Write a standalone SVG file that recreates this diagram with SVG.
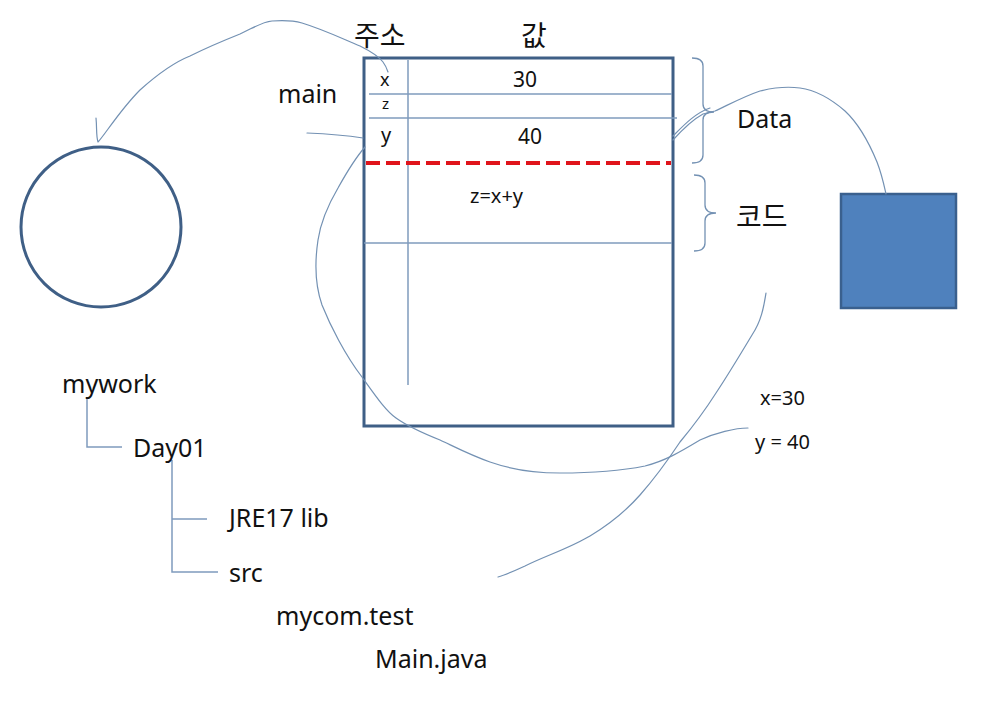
<svg xmlns="http://www.w3.org/2000/svg" width="985" height="705" viewBox="0 0 985 705">
<style>
text{font-family:"Noto Sans","Noto Sans CJK KR",sans-serif;fill:#111;}
.big{font-size:25px;}
.mid{font-size:20px;}
.kr{font-family:"Noto Sans CJK KR","Noto Sans",sans-serif;font-size:28px;}
.grid{stroke:#7f9bbd;stroke-width:1.5;fill:none;}
.curve{stroke:#7391b3;stroke-width:1.2;fill:none;stroke-linecap:round;stroke-linejoin:round;}
.brace{stroke:#7391b3;stroke-width:1.3;fill:none;}
.tree{stroke:#7f9bbd;stroke-width:1.5;fill:none;}
</style>
<rect width="985" height="705" fill="#fff"/>

<g id="circle">
<circle cx="101" cy="227" r="80" fill="none" stroke="#3f5f86" stroke-width="3"/>
</g>

<g id="square">
<rect x="841" y="194" width="115" height="114" fill="#4f81bd" stroke="#3a608e" stroke-width="2.5"/>
</g>

<g id="memory">
<rect x="364" y="58" width="309" height="368" fill="none" stroke="#3f5f86" stroke-width="3"/>
<line class="grid" x1="408" y1="60" x2="408" y2="385"/>
<line class="grid" x1="369" y1="94" x2="672" y2="94"/>
<line class="grid" x1="369" y1="118" x2="677" y2="118"/>
<line class="grid" x1="364" y1="243" x2="672" y2="243"/>
<line x1="366" y1="163" x2="671" y2="163" stroke="#e0141b" stroke-width="4" stroke-dasharray="14,6"/>
<text class="kr" x="354" y="46">주소</text>
<text class="kr" x="521" y="46">값</text>
<text x="380" y="86" style="font-size:18px">x</text>
<text x="382" y="109" style="font-size:15px">z</text>
<text class="mid" x="381" y="142">y</text>
<text x="513" y="87" style="font-size:21px">30</text>
<text x="518" y="144" style="font-size:21px">40</text>
<text class="mid" x="470" y="203">z=x+y</text>
</g>

<g id="labels">
<text class="big" x="278" y="103">main</text>
<text class="big" x="737" y="128">Data</text>
<text class="kr" x="736" y="227">코드</text>
<text class="mid" x="760" y="405">x=30</text>
<text class="mid" x="755" y="449">y = 40</text>
</g>

<g id="braces">
<path class="brace" d="M692 58 Q703 58 703 66 L703 104 Q703 112 714 112 Q703 112 703 120 L703 155 Q703 163 692 163"/>
<path class="brace" d="M694 175 Q705 175 705 183 L705 205 Q705 213 716 213 Q705 213 705 221 L705 243 Q705 251 694 251"/>
</g>

<g id="tree">
<path class="tree" d="M87 397 L87 447 L122 447"/>
<path class="tree" d="M172 460 L172 572 L218 572 M172 519 L207 519"/>
<text class="big" x="62" y="393">mywork</text>
<text class="big" x="133" y="457">Day01</text>
<text class="big" x="229" y="527">JRE17 lib</text>
<text class="big" x="229" y="582">src</text>
<text class="big" x="276" y="625">mycom.test</text>
<text class="big" x="375" y="668">Main.java</text>
</g>

<g id="connectors">
<path class="curve" d="M96 118 C97 128 96 136 98 142 C104 136 120 110 140 90 C160 72 175 62 190 56 C210 46 225 40 240 34 C255 27 262 22 272 21 C285 20 295 21 302 23 C325 30 345 40 360 46 C372 52 380 58 383 62 C386 66 387 69 388 72"/>
<path class="curve" d="M307 133 C330 134 350 136 363 138"/>
<path class="curve" d="M365 147 C358 155 348 170 338 188 C328 205 321 220 318 240 C315 260 315 285 322 305 C330 325 345 355 362 377 C375 395 385 410 396 418 C410 428 425 434 440 440 C455 447 470 455 490 462 C510 469 530 473 560 473 C590 473 620 471 645 466 C665 461 680 452 700 440 C715 433 735 428 748 428"/>
<path class="curve" d="M766 293 C764 305 762 320 752 335 C740 355 728 375 716 393 C702 415 690 430 680 442 C668 460 655 478 640 495 C625 512 610 524 590 536 C570 548 545 556 525 566 C512 572 505 575 498 577"/>
<path class="curve" d="M673 140 C682 130 692 120 703 114 L715 111 C730 104 745 96 760 91 C772 88 785 86 800 88 C815 90 830 98 845 111 C860 125 870 145 877 162 C882 175 884 185 886 194"/>
<path class="curve" d="M673 136 C683 126 695 113 710 108"/>
</g>
</svg>
